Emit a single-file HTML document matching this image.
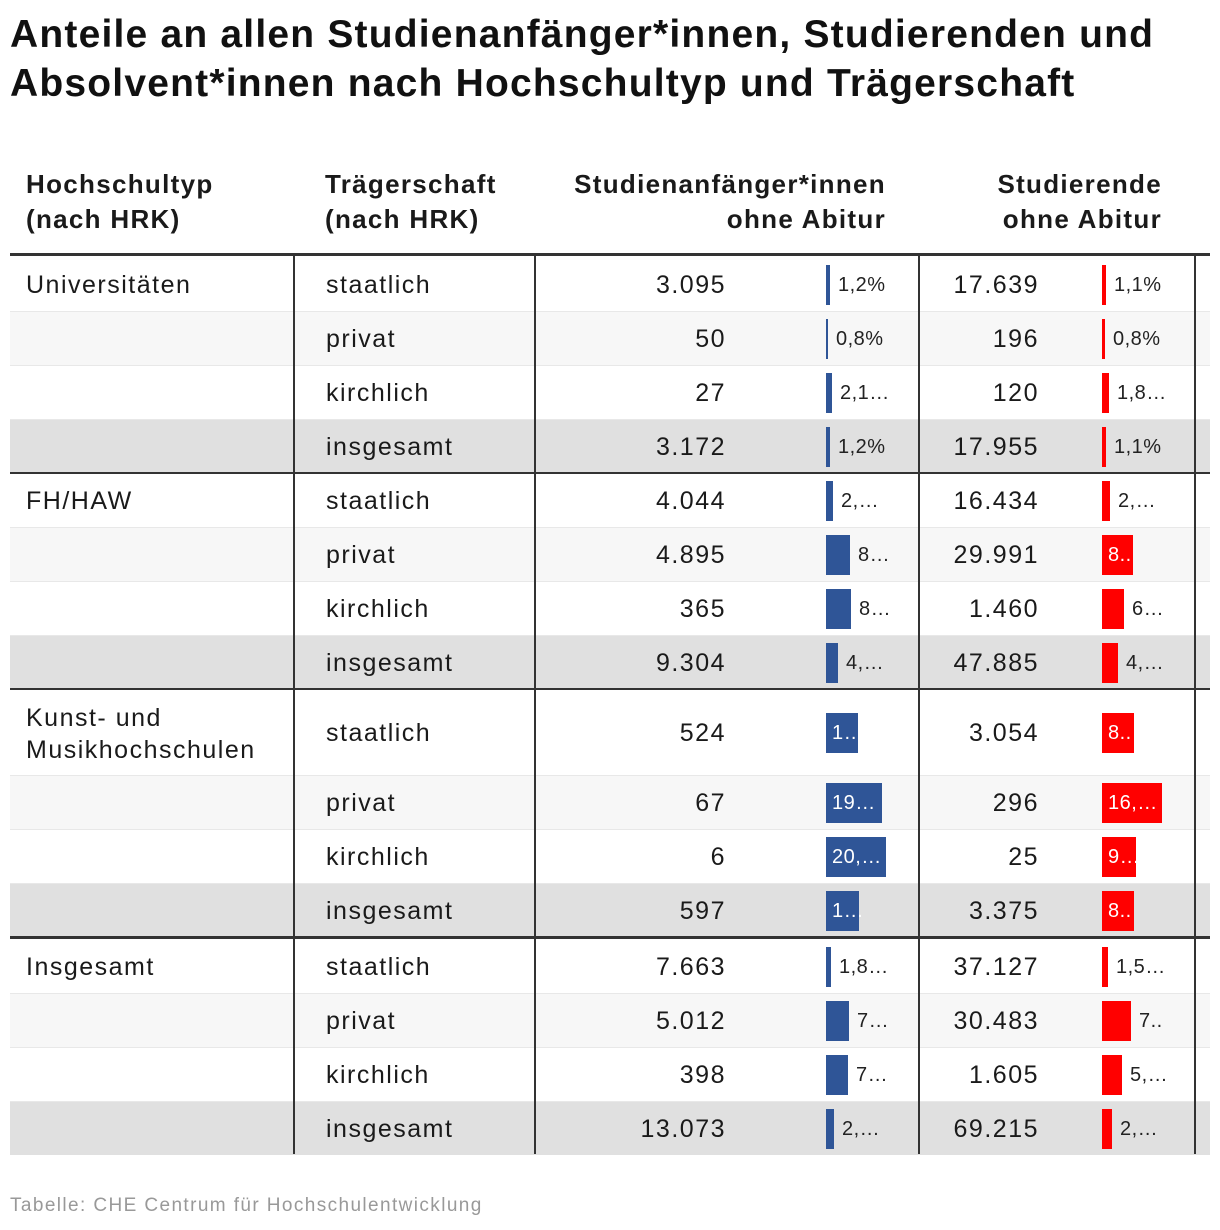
<!DOCTYPE html>
<html><head><meta charset="utf-8">
<style>
body{margin:0;width:1220px;height:1230px;background:#fff;font-family:"Liberation Sans",Arial,sans-serif;color:#1a1a1a;position:relative;overflow:hidden}
.a{position:absolute;white-space:nowrap}
h1{position:absolute;left:10px;top:10px;margin:0;font-size:39px;line-height:49px;font-weight:bold;letter-spacing:1.2px;color:#111}
.hd{font-weight:bold;font-size:26px;line-height:35px;color:#1a1a1a;letter-spacing:1.3px}
.cell{font-size:25px;line-height:30px;letter-spacing:1.5px}
.lbl{font-size:20px;line-height:24px;overflow:hidden;letter-spacing:0.5px}
</style></head><body>
<h1>Anteile an allen Studienanfänger*innen, Studierenden und<br>Absolvent*innen nach Hochschultyp und Trägerschaft</h1>
<div class="a hd" style="left:26px;top:167px">Hochschultyp<br>(nach HRK)</div>
<div class="a hd" style="left:325px;top:167px">Trägerschaft<br>(nach HRK)</div>
<div class="a hd" style="right:334px;top:167px;text-align:right">Studienanfänger*innen<br>ohne Abitur</div>
<div class="a hd" style="right:58px;top:167px;text-align:right">Studierende<br>ohne Abitur</div>
<div class="a" style="left:10px;top:253px;width:1200px;height:3px;background:#333"></div>
<div id="tbl"></div>
<div class="a" style="left:10px;top:1195px;font-size:19px;color:#999;letter-spacing:1.4px">Tabelle: CHE Centrum für Hochschulentwicklung</div>
<script>
const groups=["Universitäten","FH/HAW","Kunst- und<br>Musikhochschulen","Insgesamt"];
const traeger=["staatlich","privat","kirchlich","insgesamt"];
const anfaengerCounts=["3.095","50","27","3.172","4.044","4.895","365","9.304","524","67","6","597","7.663","5.012","398","13.073"];
const anfaengerShare=[1.2,0.8,2.1,1.2,2.5,8.3,8.5,4.0,10.8,19.0,20.3,11.2,1.8,7.9,7.4,2.6];
const anfaengerLabels=["1,2%","0,8%","2,1…","1,2%","2,…","8…","8…","4,…","1…","19…","20,…","1…","1,8…","7…","7…","2,…"];
const studCounts=["17.639","196","120","17.955","16.434","29.991","1.460","47.885","3.054","296","25","3.375","37.127","30.483","1.605","69.215"];
const studShare=[1.1,0.8,1.8,1.1,2.2,8.3,6.0,4.3,8.7,16.2,9.2,8.7,1.6,7.9,5.4,2.6];
const studLabels=["1,1%","0,8%","1,8…","1,1%","2,…","8..","6…","4,…","8..","16,…","9…","8..","1,5…","7..","5,…","2,…"];
const xA=v=>v*2.95, xS=v=>v*3.7;
const tops=[258,312,366,420,474,528,582,636,690,776,830,884,940,994,1048,1102];
const hts=[54,54,54,53,54,54,54,53,86,54,54,53,54,54,54,53];
const T=document.getElementById('tbl');
function mk(style,cls,html){const d=document.createElement('div');d.className='a '+(cls||'');d.style.cssText=style;if(html!==undefined)d.innerHTML=html;T.appendChild(d);return d;}
for(let i=0;i<16;i++){
  const t=tops[i],h=hts[i],k=i%4;
  const bg=k==3?'#e0e0e0':(k==1?'#f7f7f7':'#fff');
  const row=mk(`left:10px;top:${t}px;width:1200px;height:${h}px;background:${bg}`);
  
  
  if(k!=3){const s=mk(`left:10px;top:${t+h-1}px;width:1200px;height:2px;background:#e8e8e8`);
    
    }
  const cy=t+h/2;
  if(k==0){const g=mk(`left:26px;top:${i==8?t+12:cy-15}px`,'cell',groups[i/4]);
    g.style.lineHeight=i==8?'32px':'30px';
    
    }
  const tr=mk(`left:326px;top:${cy-15}px`,'cell',traeger[k]);
  
  
  const n1=mk(`right:${1220-726}px;top:${cy-15}px`,'cell',anfaengerCounts[i]);
  
  
  const n2=mk(`right:${1220-1039}px;top:${cy-15}px`,'cell',studCounts[i]);
  
  
  [[826,anfaengerShare[i],xA,'#2f5597',anfaengerLabels[i],'anfaenger-bar'],[1102,studShare[i],xS,'#ff0000',studLabels[i],'studierende-bar']].forEach(([x0,v,sc,col,lab,nm])=>{
    const w=Math.max(2,Math.round(sc(v)));
    const b=mk(`left:${x0}px;top:${cy-20}px;width:${w}px;height:40px;background:${col}`);
    
    
    const inside=w>=30;
    const l=mk(`left:${inside?x0+6:x0+w+8}px;top:${cy-12}px;color:${inside?'#fff':'#222'}`,'lbl',lab);
    
    
  });
}
[[472,2,'#333'],[688,2,'#333'],[936,3,'#333']].forEach(([y,h,c])=>{
  const d=mk(`left:10px;top:${y}px;width:1200px;height:${h}px;background:${c}`);
  
  
});
[293,534,918,1194].forEach(x=>{
  const d=mk(`left:${x}px;top:256px;width:2px;height:898px;background:#333`);
  
  
});
</script>
</body></html>
